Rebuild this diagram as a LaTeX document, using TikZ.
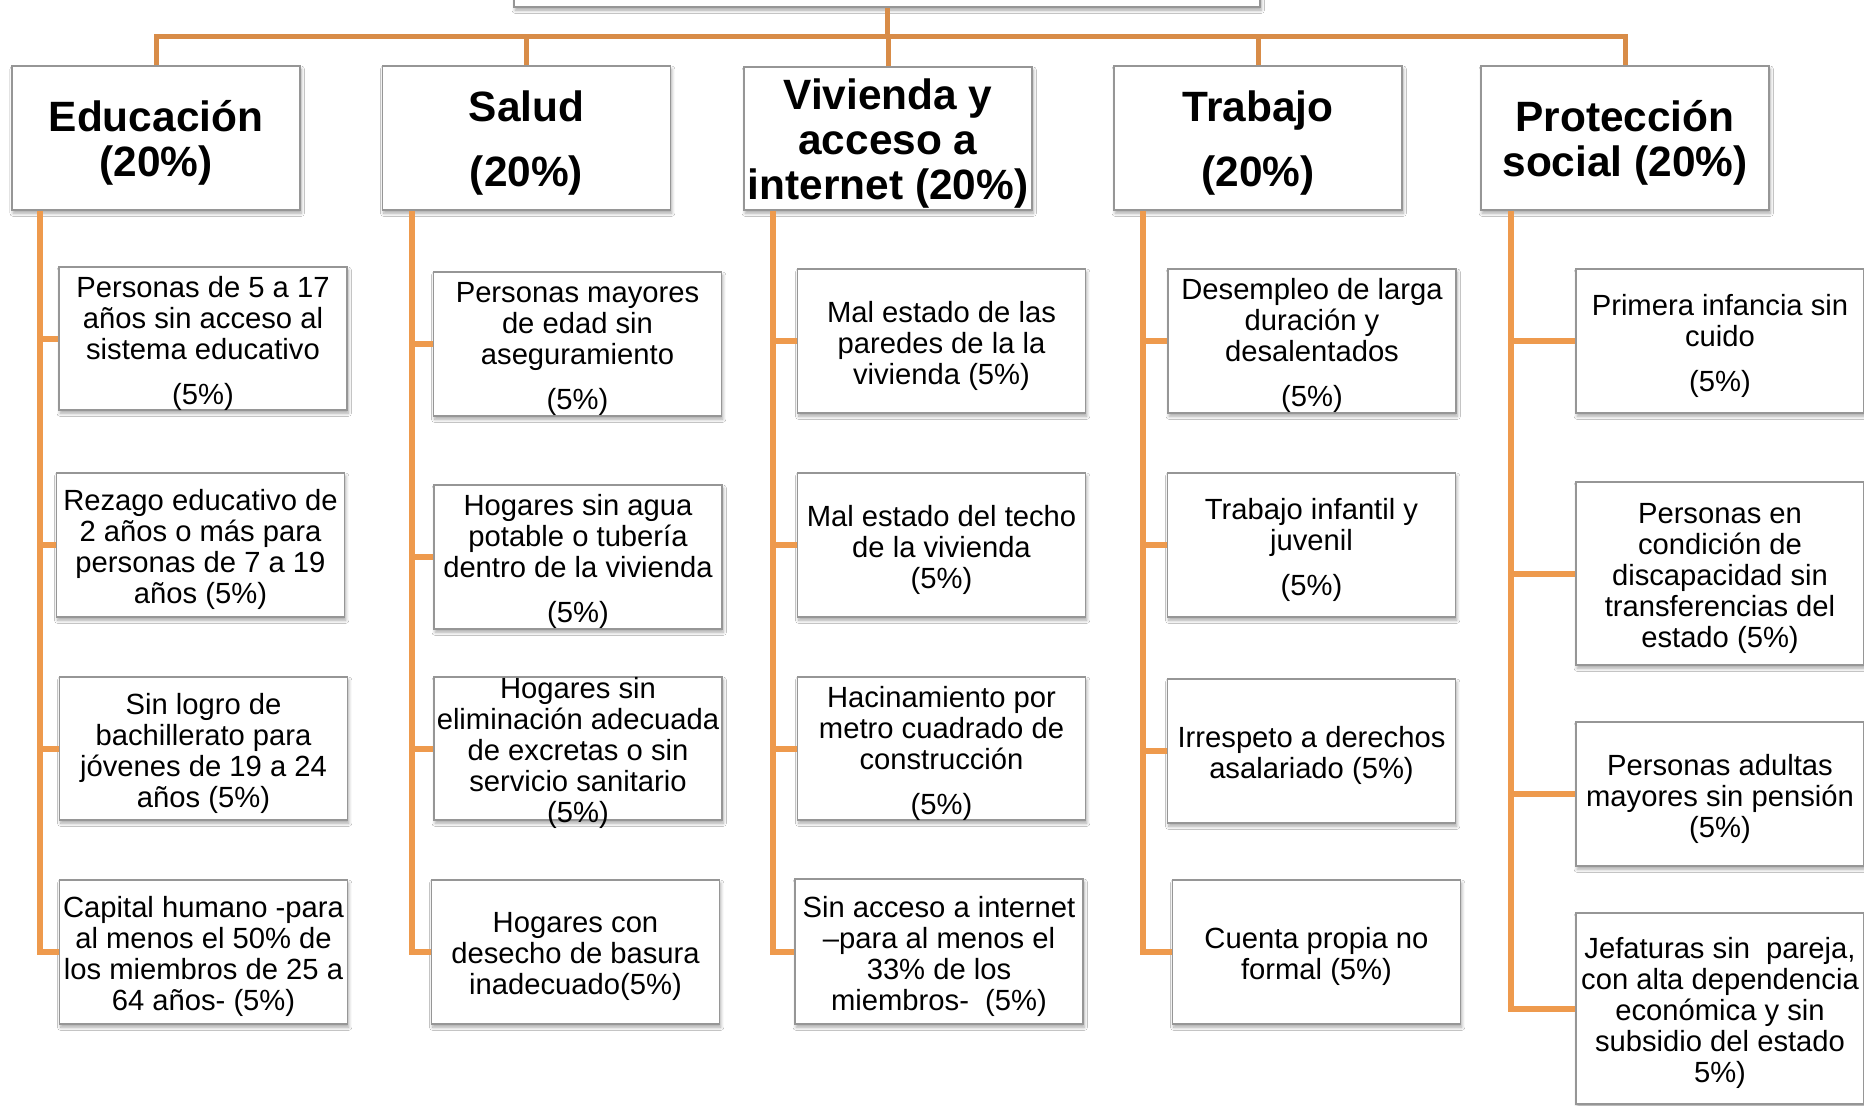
\documentclass[tikz,border=0pt]{standalone}
\usepackage{fontspec}
\setmainfont{Liberation Sans}
\usetikzlibrary{shadows.blur}
\definecolor{busc}{RGB}{216,140,72}
\definecolor{trunkc}{RGB}{238,154,77}
\definecolor{bordc}{RGB}{150,150,150}
\tikzset{
  box/.style={draw=bordc, line width=0.75pt, fill=white, inner sep=0pt,
    minimum width=144pt, minimum height=72pt,
    blur shadow={shadow xshift=0.6pt, shadow yshift=-1.6pt, shadow blur radius=1.6pt, shadow blur steps=6, shadow opacity=35}},
  titletxt/.style={inner sep=0pt, align=center, font=\fontsize{21.2}{22.5}\selectfont\bfseries},
  childtxt/.style={inner sep=0pt, align=center, font=\fontsize{14.6}{15.5}\selectfont},
  bus/.style={draw=busc, line width=2.5pt},
  trunk/.style={draw=trunkc, line width=3pt},
}
% box with its text set a little below the geometric centre
\newcommand\tbox[5][]{\node[box,#1] (#2) at (#3) {};
  \node[#4] (#2t) at ([yshift=-2.4pt]#2.center) {#5};}
\begin{document}
\begin{tikzpicture}[x=0.5pt, y=-0.5pt]
\fill[white] (0,0) rectangle (1864,1105);
\useasboundingbox (0,0) rectangle (1864,1105);

% root box (cut off at top)
\node[box, minimum width=373pt, minimum height=60pt] (root) at (887,-53) {};

% category boxes
\tbox{edu}{156,138}{titletxt}{Educación\\(20\%)}
\tbox{sal}{526.5,138}{titletxt}{Salud\\[10pt](20\%)}
\tbox[minimum height=71.5pt]{viv}{888,138.5}{titletxt}{Vivienda y\\acceso a\\internet (20\%)}
\tbox{tra}{1258,138}{titletxt}{Trabajo\\[10pt](20\%)}
\tbox{pro}{1625,138}{titletxt}{Protección\\social (20\%)}

% bus lines
\coordinate (busy) at (0,36);
\draw[bus] (edu.north) -- (edu.north |- busy) -- (pro.north |- busy) -- (pro.north);
\draw[bus] (root.south) -- (root.south |- busy);
\draw[bus] (sal.north) -- (sal.north |- busy);
\draw[bus] (viv.north) -- (viv.north |- busy);
\draw[bus] (tra.north) -- (tra.north |- busy);

% Educación children
\tbox[minimum height=71.5pt]{e1}{203,338.5}{childtxt}{Personas de 5 a 17\\años sin acceso al\\sistema educativo\\[7pt](5\%)}
\tbox{e2}{200.5,545}{childtxt}{Rezago educativo de\\2 años o más para\\personas de 7 a 19\\años (5\%)}
\tbox[minimum height=71.5pt]{e3}{203.5,748.5}{childtxt}{Sin logro de\\bachillerato para\\jóvenes de 19 a 24\\años (5\%)}
\tbox{e4}{203.5,952}{childtxt}{Capital humano -para\\al menos el 50\% de\\los miembros de 25 a\\64 años- (5\%)}

% Salud children
\tbox{s1}{577.5,344}{childtxt}{Personas mayores\\de edad sin\\aseguramiento\\[7pt](5\%)}
\tbox{s2}{578,557}{childtxt}{Hogares sin agua\\potable o tubería\\dentro de la vivienda\\[7pt](5\%)}
\tbox[minimum height=71.5pt]{s3}{578,748.5}{childtxt}{Hogares sin\\eliminación adecuada\\de excretas o sin\\servicio sanitario\\(5\%)}
\tbox{s4}{575.5,952}{childtxt}{Hogares con\\desecho de basura\\inadecuado(5\%)}

% Vivienda children
\tbox{v1}{941.5,341}{childtxt}{Mal estado de las\\paredes de la la\\vivienda (5\%)}
\tbox{v2}{941.5,545}{childtxt}{Mal estado del techo\\de la vivienda\\(5\%)}
\tbox[minimum height=71.5pt]{v3}{941.5,748.5}{childtxt}{Hacinamiento por\\metro cuadrado de\\construcción\\[7pt](5\%)}
\tbox[minimum height=72.5pt]{v4}{939,951.5}{childtxt}{Sin acceso a internet\\–para al menos el\\33\% de los\\miembros-~ (5\%)}

% Trabajo children
\tbox{t1}{1312,341}{childtxt}{Desempleo de larga\\duración y\\desalentados\\[7pt](5\%)}
\tbox{t2}{1311.5,545}{childtxt}{Trabajo infantil y\\juvenil\\[7pt](5\%)}
\tbox{t3}{1311.5,751}{childtxt}{Irrespeto a derechos\\asalariado (5\%)}
\tbox{t4}{1316.5,952}{childtxt}{Cuenta propia no\\formal (5\%)}

% Protección social children
\tbox{p1}{1720,341}{childtxt}{Primera infancia sin\\cuido\\[7pt](5\%)}
\tbox[minimum height=91.5pt]{p2}{1720,573.5}{childtxt}{Personas en\\condición de\\discapacidad sin\\transferencias del\\estado (5\%)}
\tbox{p3}{1720,794}{childtxt}{Personas adultas\\mayores sin pensión\\(5\%)}
\tbox[minimum height=95.5pt]{p4}{1720,1008.5}{childtxt}{Jefaturas sin~ pareja,\\con alta dependencia\\económica y sin\\subsidio del estado\\5\%)}

% trunks
\coordinate (eX) at (40,0);
\coordinate (sX) at (412,0);
\coordinate (vX) at (773,0);
\coordinate (tX) at (1143,0);
\coordinate (pX) at (1511,0);

\draw[trunk] (eX |- edu.south) |- (e4.west);
\foreach \n in {e1,e2,e3} \draw[trunk] (eX |- \n.west) -- (\n.west);
\draw[trunk] (sX |- sal.south) |- (s4.west);
\foreach \n in {s1,s2,s3} \draw[trunk] (sX |- \n.west) -- (\n.west);
\draw[trunk] (vX |- viv.south) |- (v4.west);
\foreach \n in {v1,v2,v3} \draw[trunk] (vX |- \n.west) -- (\n.west);
\draw[trunk] (tX |- tra.south) |- (t4.west);
\foreach \n in {t1,t2,t3} \draw[trunk] (tX |- \n.west) -- (\n.west);
\draw[trunk] (pX |- pro.south) |- (p4.west);
\foreach \n in {p1,p2,p3} \draw[trunk] (pX |- \n.west) -- (\n.west);
\end{tikzpicture}
\end{document}
